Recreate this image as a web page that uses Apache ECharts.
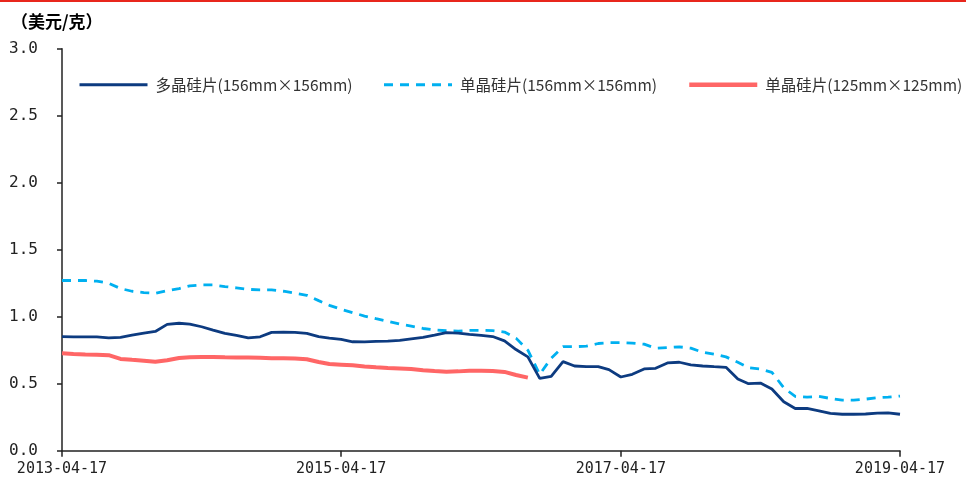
<!DOCTYPE html>
<html>
<head>
<meta charset="utf-8">
<script src="https://cdn.jsdelivr.net/npm/echarts@6/dist/echarts.min.js"></script>
<style>
    html,body{margin:0;padding:0;background:#fff;}
    #main{width:966px;height:479px;}
</style>
</head>
<body>
<div id="main"></div>
<script>
// 月度日期，从2013-04-17到2019-04-17
var startYear = 2013, startMonth = 4, monthCount = 73;
var dates = [];
for (var i = 0; i < monthCount; i++) {
    var y = startYear + Math.floor((startMonth - 1 + i) / 12);
    var m = (startMonth - 1 + i) % 12 + 1;
    dates.push(y + '-' + (m < 10 ? '0' + m : m) + '-17');
}
var tickDates = ['2013-04-17', '2015-04-17', '2017-04-17', '2019-04-17'];
var yTicks = [0, 0.5, 1.0, 1.5, 2.0, 2.5, 3.0];
var seriesNames = ['多晶硅片(156mm×156mm)', '单晶硅片(156mm×156mm)', '单晶硅片(125mm×125mm)'];

// 多晶硅片 156
var poly156 = [0.851,0.85,0.85,0.85,0.842,0.845,0.862,0.878,0.89,0.943,
    0.951,0.945,0.925,0.90,0.875,0.86,0.842,0.85,0.883,0.885,
    0.883,0.875,0.851,0.84,0.83,0.813,0.812,0.816,0.818,0.824,
    0.835,0.845,0.862,0.881,0.878,0.868,0.86,0.852,0.82,0.755,
    0.70,0.54,0.555,0.665,0.632,0.627,0.627,0.605,0.55,0.57,
    0.61,0.615,0.655,0.66,0.64,0.632,0.627,0.622,0.535,0.50,
    0.505,0.46,0.365,0.315,0.315,0.298,0.278,0.272,0.272,0.274,
    0.28,0.282,0.272];
// 单晶硅片 156
var mono156 = [1.27,1.27,1.27,1.265,1.25,1.21,1.19,1.18,1.175,1.195,
    1.21,1.23,1.237,1.237,1.225,1.215,1.204,1.20,1.20,1.19,
    1.175,1.16,1.12,1.085,1.055,1.03,1.005,0.985,0.965,0.945,
    0.93,0.912,0.902,0.895,0.893,0.898,0.898,0.896,0.885,0.84,
    0.75,0.57,0.69,0.776,0.776,0.78,0.80,0.806,0.806,0.803,
    0.795,0.765,0.77,0.775,0.765,0.735,0.72,0.70,0.66,0.62,
    0.61,0.585,0.47,0.405,0.40,0.405,0.39,0.378,0.378,0.385,
    0.395,0.40,0.408];
// 单晶硅片 125，后面停更
var mono125 = [0.727,0.722,0.718,0.716,0.713,0.685,0.678,0.672,0.664,0.675,
    0.692,0.698,0.70,0.699,0.697,0.696,0.695,0.693,0.69,0.69,
    0.688,0.682,0.662,0.647,0.642,0.637,0.629,0.622,0.617,0.613,
    0.609,0.60,0.594,0.59,0.592,0.597,0.596,0.595,0.588,0.565,
    0.545];

var colors = ['#0d3b80', '#00b0f0', '#ff6666'];

function ts(s){
    return echarts.number.parseDate(s).getTime();
}
function pairs(vals){
    var out = [];
    for (var i = 0; i < vals.length; i++) {
        out.push([ts(dates[i]), vals[i]]);
    }
    return out;
}
var tickTs = tickDates.map(ts);

var font = '"Noto Sans CJK SC", "Noto Sans", sans-serif';
var myChart = echarts.init(document.getElementById('main'));
var option = {
    animation: false,
    backgroundColor: '#fff',
    title: {
        text: '（美元/克）',
        left: 6,
        top: 8,
        textStyle: {fontSize: 17, fontWeight: 'bold', color: '#000', fontFamily: font}
    },
    // 顶部红线
    graphic: [{
        type: 'rect',
        left: 0, top: 0,
        shape: {width: 966, height: 2},
        style: {fill: '#e8261c'}
    }],
    legend: {
        left: 78,
        top: 77,
        width: 888,
        padding: 0,
        itemWidth: 68,
        itemHeight: 16,
        itemGap: 30,
        textStyle: {fontSize: 15.5, color: '#333', fontFamily: font, padding: [0, 0, 0, 3]},
        itemStyle: {opacity: 0},
        data: [
            {name: seriesNames[0], lineStyle: {width: 3, color: colors[0]}},
            {name: seriesNames[1], lineStyle: {width: 3, color: colors[1], type: [9, 7]}},
            {name: seriesNames[2], lineStyle: {width: 4.5, color: colors[2]}}
        ]
    },
    grid: {left: 62, right: 66, top: 48.7, bottom: 28.3},
    xAxis: {
        type: 'value',
        min: tickTs[0],
        max: tickTs[tickTs.length - 1],
        splitLine: {show: false},
        axisLine: {show: true, lineStyle: {color: '#222', width: 1.5}},
        axisTick: {show: true, customValues: tickTs, length: 6, lineStyle: {color: '#222', width: 1.5}},
        axisLabel: {
            customValues: tickTs,
            margin: 11,
            fontSize: 15,
            color: '#222',
            fontFamily: '"DejaVu Sans Mono", monospace',
            formatter: function(v){
                return echarts.time.format(v, '{yyyy}-{MM}-{dd}', false);
            }
        }
    },
    yAxis: {
        type: 'value',
        min: yTicks[0],
        max: yTicks[yTicks.length - 1],
        interval: 0.5,
        splitLine: {show: false},
        axisLine: {show: true, lineStyle: {color: '#222', width: 1.5}},
        axisTick: {show: true, length: 5, lineStyle: {color: '#222', width: 1.5}},
        axisLabel: {
            margin: 24,
            fontSize: 16,
            color: '#222',
            fontFamily: '"DejaVu Sans Mono", monospace',
            formatter: function(v){ return v.toFixed(1); }
        }
    },
    series: [{
        name: seriesNames[0],
        type: 'line',
        data: pairs(poly156),
        symbol: 'none',
        lineStyle: {color: colors[0], width: 2.8},
        itemStyle: {color: colors[0]},
        z: 3
    }, {
        name: seriesNames[1],
        type: 'line',
        data: pairs(mono156),
        symbol: 'none',
        lineStyle: {color: colors[1], width: 2.8, type: [9, 7]},
        itemStyle: {color: colors[1]},
        z: 2
    }, {
        name: seriesNames[2],
        type: 'line',
        data: pairs(mono125),
        symbol: 'none',
        lineStyle: {color: colors[2], width: 4},
        itemStyle: {color: colors[2]},
        z: 1
    }]
};
myChart.setOption(option);
</script>
</body>
</html>
